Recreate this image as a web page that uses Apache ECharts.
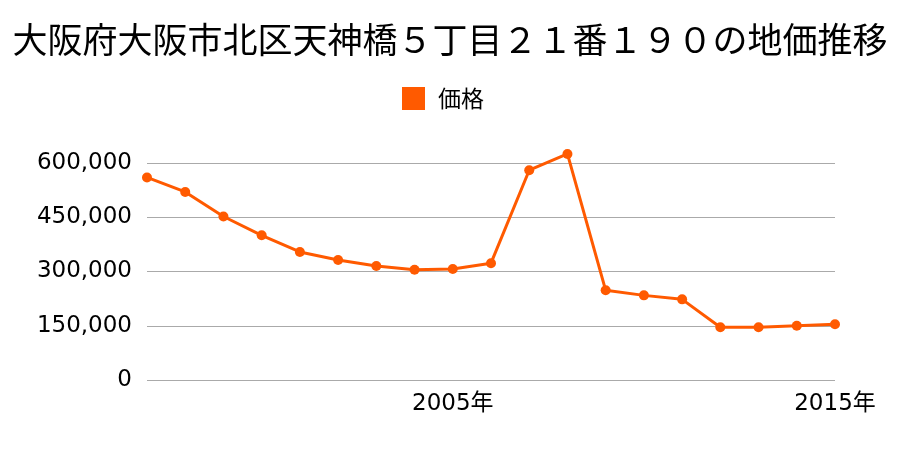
<!DOCTYPE html>
<html>
<head>
<meta charset="utf-8">
<script src="https://cdn.jsdelivr.net/npm/echarts@6/dist/echarts.min.js"></script>
<style>html,body{margin:0;padding:0;background:#fff;}#c{width:900px;height:450px;}</style>
</head>
<body>
<div id="c"></div>
<script>
var titleText = '大阪府大阪市北区天神橋５丁目２１番１９０の地価推移';
var seriesName = '価格';
var years = [1997,1998,1999,2000,2001,2002,2003,2004,2005,2006,2007,2008,2009,2010,2011,2012,2013,2014,2015];
var prices = [560000,520000,452000,400000,354000,332000,315000,305000,307000,323000,580000,625000,248000,234000,223000,146000,146000,150000,154000];
var labeledYears = [2005, 2015];

var cjk = '"Noto Sans CJK JP", "Noto Sans", sans-serif';
var num = '"DejaVu Sans", "Noto Sans CJK JP", sans-serif';
var chart = echarts.init(document.getElementById('c'), null, {renderer: 'canvas'});
chart.setOption({
  animation: false,
  backgroundColor: '#fff',
  title: {
    text: titleText,
    left: 'center',
    top: 17,
    textStyle: {fontFamily: cjk, fontSize: 35, fontWeight: 'normal', color: '#000'}
  },
  legend: {
    data: [seriesName],
    top: 82,
    left: 397,
    icon: 'rect',
    itemWidth: 23,
    itemHeight: 23,
    itemGap: 10,
    textStyle: {fontFamily: cjk, fontSize: 23, color: '#000', padding: [0, 0, 0, 8]}
  },
  grid: {left: 147, right: 65, top: 163, bottom: 70, containLabel: false},
  xAxis: {
    type: 'category',
    boundaryGap: false,
    data: years.map(String),
    axisLine: {show: false},
    axisTick: {show: false},
    splitLine: {show: false},
    axisLabel: {
      interval: 0,
      margin: 13,
      fontFamily: num,
      fontSize: 23,
      color: '#000',
      formatter: function (v) { return labeledYears.indexOf(+v) >= 0 ? v + '年' : ''; }
    }
  },
  yAxis: {
    type: 'value',
    min: 0,
    max: 600000,
    interval: 150000,
    axisLine: {show: false},
    axisTick: {show: false},
    splitLine: {lineStyle: {color: '#aaaaaa', width: 1}},
    axisLabel: {
      margin: 15,
      fontFamily: num,
      fontSize: 23,
      color: '#000',
      padding: [3, 0, 0, 0],
      formatter: function (v) { return v.toLocaleString('en-US'); }
    }
  },
  series: [{
    name: seriesName,
    type: 'line',
    data: prices,
    clip: false,
    symbol: 'circle',
    symbolSize: 10,
    color: '#ff5a00',
    lineStyle: {width: 3, color: '#ff5a00'},
    itemStyle: {color: '#ff5a00'}
  }]
});
</script>
</body>
</html>
